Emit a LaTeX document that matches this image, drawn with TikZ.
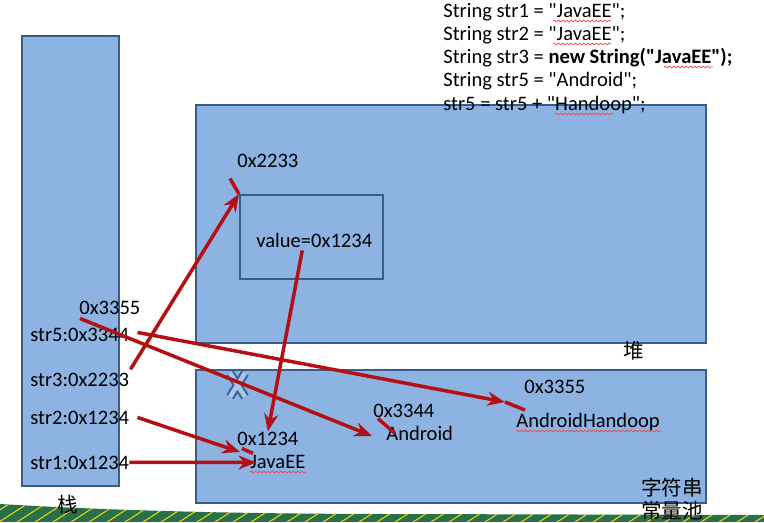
\documentclass[tikz,border=0pt]{standalone}
\usepackage{fontspec}
\setmainfont{Carlito}[Ligatures=TeXOff]
\newfontfamily\cjk{Noto Sans CJK SC}
\usetikzlibrary{calc,arrows.meta,decorations.pathmorphing}
\definecolor{memfill}{RGB}{141,179,226}
\definecolor{memline}{RGB}{56,93,138}
\definecolor{ptr}{RGB}{180,16,20}
\definecolor{band}{RGB}{38,112,76}
\definecolor{crossline}{RGB}{62,98,150}

\begin{document}
\begin{tikzpicture}[x=0.02cm, y=-0.02cm,
    every node/.style={inner sep=0pt, font=\fontsize{11.7}{13.2}\selectfont},
    mem/.style={draw=memline, line width=1.2pt, fill=memfill},
    txt/.style={anchor=base west},
    ref/.style={ptr, line width=2pt, -{Stealth[length=10pt,width=8pt]}},
    tick/.style={ptr, line width=2pt},
    squiggle/.style={red!75, line width=0.4pt, decorate,
      decoration={snake, amplitude=0.5pt, segment length=2.4pt}}]
  \useasboundingbox (0,0) rectangle (764,522);
  % slide band at the bottom
  \begin{scope}
    \clip (0,504) .. controls (120,511) and (250,514) .. (400,514) -- (764,515) -- (764,522) -- (0,522) -- cycle;
    \fill[band] (0,500) rectangle (764,522);
    \foreach \x in {-40,-22,...,780}
      \draw[yellow!70!orange, line width=0.6pt] (\x,524) -- ++(34,-22);
  \end{scope}
  % memory areas
  \node[mem, minimum width=1.94cm, minimum height=9cm] (stack) at (70.5,261) {};
  \node[mem, minimum width=10.2cm, minimum height=4.76cm] (heap) at (451,224) {};
  \node[mem, minimum width=2.86cm, minimum height=1.68cm] (obj) at (311.5,237) {};
  \node[mem, minimum width=10.2cm, minimum height=2.66cm] (pool) at (451,436.5) {};
  % source code
  \foreach \line [count=\i] in {{String str1 = "JavaEE";},{String str2 = "JavaEE";},
      {String str3 = \textbf{new String("JavaEE");}},{String str5 = "Android";},
      {str5 = str5 + "Handoop";}}
    \node[txt] (code\i) at (443,{17+23.25*(\i-1)}) {\line};
  \draw[squiggle] (553,21) -- (611,21);
  \draw[squiggle] (553,44) -- (611,44);
  \draw[squiggle] (664,67) -- (713,67);
  \draw[squiggle] (555,114) -- (613,114);
  % stack
  \node[txt] (a3355) at (79,314) {0x3355};
  \node[txt] (str5) at (30,341) {str5:0x3344};
  \node[txt] (str3) at (30,386) {str3:0x2233};
  \node[txt] (str2) at (30,424) {str2:0x1234};
  \node[txt] (str1) at (30,469) {str1:0x1234};
  \node[txt] (zhan) at (57,512) {\cjk 栈};
  % heap
  \node[txt] (a2233) at (237,167) {0x2233};
  \node[txt] (value) at (256,247) {value=0x1234};
  \node[txt] (dui) at (623,358) {\cjk 堆};
  % string pool
  \node[txt] (a1234) at (237,445) {0x1234};
  \node[txt] (javaee) at (250,468) {JavaEE};
  \node[txt] (a3344) at (373,417) {0x3344};
  \node[txt] (android) at (386,440) {Android};
  \node[txt] (b3355) at (524,393) {0x3355};
  \node[txt] (handoop) at (516,427) {AndroidHandoop};
  \node[txt] (zifu) at (641,495) {\cjk 字符串};
  \node[txt] (changliang) at (641,518) {\cjk 常量池};
  \draw[squiggle] (250,472) -- (306,472);
  \draw[squiggle] (516,431) -- (661,431);
  % crossed out link
  \draw[crossline, line width=5pt] (230,373) -- (245,397) (245,373) -- (230,397);
  \draw[memfill!75!white, line width=2.6pt] (230,373) -- (245,397) (245,373) -- (230,397);
  % references
  \coordinate (tip2) at (240,452);
  \coordinate (tip4) at (372,436);
  \coordinate (tip5) at (505,402);
  \draw[ref] (str1.east) -- ($(javaee.west)+(6,1)$);
  \draw[ref] ($(str2.east)+(8,0)$) -- (tip2);
  \draw[ref] ($(str3.north east)+(1,-3)$) -- (obj.north west);
  \draw[tick] ($(a2233.south west)+(-7,11)$) -- (obj.north west);
  \draw[ref] ($(value.south)+(-12,3)$) -- (a1234.north);
  \draw[tick] ($(javaee.north west)+(-8,-6)$) -- ++(11,5);
  \draw[ref] ($(a3355.south west)+(1,4)$) -- (tip4);
  \draw[tick] ($(a3344.south west)+(5,1)$) -- ++(17,15);
  \draw[ref] ($(str5.east)+(8,-2)$) -- (tip5);
  \draw[tick] (tip5) -- ++(20,8);
\end{tikzpicture}
\end{document}
